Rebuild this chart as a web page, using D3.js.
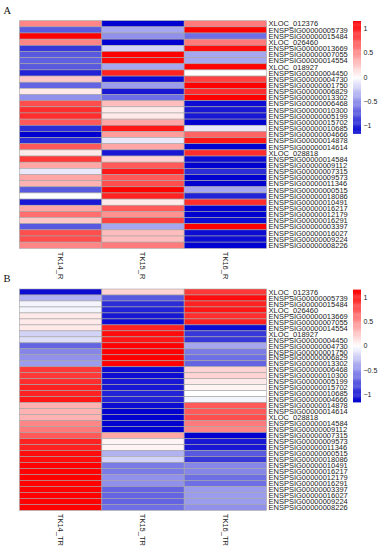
<!DOCTYPE html>
<meta charset="utf-8">
<style>
body { margin: 0; background: #fff; }
.rowlab, .collab, .ticklab { font-family: 'Liberation Sans', Arial, sans-serif; fill: #222; }
.panel { font-family: 'Liberation Serif', 'Times New Roman', serif; font-size: 10.5px; fill: #111; }
</style>
<script src="https://d3js.org/d3.v7.min.js"></script>
<div id="my_dataviz"></div>
<script>

// gene names, top to bottom (same order in both panels)
var genes = ["XLOC_012376", "ENSPSIG00000005739", "ENSPSIG00000015484", "XLOC_026460",
  "ENSPSIG00000013669", "ENSPSIG00000007055", "ENSPSIG00000014554", "XLOC_018927",
  "ENSPSIG00000004450", "ENSPSIG00000004730", "ENSPSIG00000001750", "ENSPSIG00000006829",
  "ENSPSIG00000013302", "ENSPSIG00000006468", "ENSPSIG00000010300", "ENSPSIG00000005199",
  "ENSPSIG00000015702", "ENSPSIG00000010685", "ENSPSIG00000004666", "ENSPSIG00000014878",
  "ENSPSIG00000014614", "XLOC_028818", "ENSPSIG00000014584", "ENSPSIG00000009112",
  "ENSPSIG00000007315", "ENSPSIG00000009573", "ENSPSIG00000011346", "ENSPSIG00000000515",
  "ENSPSIG00000018086", "ENSPSIG00000010491", "ENSPSIG00000016217", "ENSPSIG00000012179",
  "ENSPSIG00000016291", "ENSPSIG00000003397", "ENSPSIG00000016027", "ENSPSIG00000009224",
  "ENSPSIG00000008226"];

var samplesA = ["TK14_R", "TK15_R", "TK16_R"];
var samplesB = ["TK14_TR", "TK15_TR", "TK16_TR"];

// row-scaled values (z-scores), one row per gene
var valuesA = [
  [0.55, -1.15, 0.6], [-0.75, -0.4, 1.15], [1.15, -0.5, -0.65], [0.55, -1.15, 0.6],
  [-0.9, -0.2, 1.1], [-0.75, 1.15, -0.4], [-0.72, 1.12, -0.4], [-0.75, -0.4, 1.15],
  [-1.0, 1.0, 0.0], [0.25, -1.1, 0.85], [-0.7, -0.45, 1.15], [0.1, -1.05, 0.95],
  [-0.5, -0.65, 1.15], [0.8, 0.3, -1.1], [0.95, 0.1, -1.05], [0.95, 0.1, -1.05],
  [0.75, 0.4, -1.15], [-0.95, 1.05, -0.1], [-1.15, 0.45, 0.7], [-0.95, -0.1, 1.05],
  [0.75, 0.4, -1.15], [0.1, -1.05, 0.95], [0.9, 0.2, -1.1], [0.4, 0.75, -1.15],
  [-0.1, 1.05, -0.95], [0.4, 0.75, -1.15], [0.35, 0.8, -1.15], [-0.75, 1.15, -0.4],
  [0.0, 1.0, -1.0], [-1.05, 0.1, 0.95], [0.4, 0.75, -1.15], [0.65, 0.5, -1.15],
  [0.25, 0.85, -1.1], [-0.75, -0.4, 1.15], [0.8, 0.3, -1.1], [0.8, 0.3, -1.1],
  [0.55, 0.6, -1.15]
];

var valuesB = [
  [-1.1, 0.2, 0.9], [-0.35, -0.75, 1.1], [-0.05, -0.95, 1.0], [-0.05, -1.0, 1.05],
  [0.1, -1.05, 0.95], [0.1, -1.1, 1.0], [0.1, 1.0, -1.1], [-0.2, 1.1, -0.9],
  [-0.15, 1.05, -0.9], [-0.7, 1.15, -0.4], [-0.55, 1.15, -0.6], [-0.5, 1.15, -0.65],
  [-0.45, 1.15, -0.7], [0.9, -1.1, 0.2], [0.9, -1.1, 0.2], [0.95, -1.05, 0.1],
  [1.0, -1.05, 0.05], [1.0, -1.0, 0.0], [1.05, -1.0, -0.05], [0.35, -1.1, 0.75],
  [0.35, -1.15, 0.75], [0.35, -1.15, 0.8], [0.55, -1.15, 0.6], [0.6, -1.15, 0.55],
  [0.75, 0.4, -1.15], [1.0, 0.05, -1.05], [1.0, 0.05, -1.05], [1.1, -0.35, -0.75],
  [1.1, -0.2, -0.9], [1.15, -0.6, -0.55], [1.15, -0.6, -0.55], [1.15, -0.5, -0.65],
  [1.15, -0.5, -0.65], [1.15, -0.7, -0.45], [1.15, -0.7, -0.45], [1.15, -0.7, -0.45],
  [1.15, -0.65, -0.5]
];

var legendTicks = [-1, -0.5, 0, 0.5, 1];
var zmax = 1.155;

var svg = d3.select("#my_dataviz")
  .append("svg")
    .attr("width", 384)
    .attr("height", 550);

var color = d3.scaleLinear()
  .domain([-zmax, 0, zmax])
  .range(["#0000d0", "#ffffff", "#ff0000"]);

function drawPanel(letter, samples, values, top, bottom, letterY, legendTop) {
  var g = svg.append("g");

  var x = d3.scaleBand()
    .domain(samples)
    .range([19.5, 266.5]);

  var y = d3.scaleBand()
    .domain(genes)
    .range([top, bottom]);

  var cells = [];
  values.forEach(function(row, i) {
    row.forEach(function(v, j) {
      cells.push({gene: genes[i], sample: samples[j], value: v});
    });
  });

  g.append("g")
    .selectAll("rect")
    .data(cells)
    .enter()
    .append("rect")
      .attr("x", function(d) { return x(d.sample); })
      .attr("y", function(d) { return y(d.gene); })
      .attr("width", x.bandwidth())
      .attr("height", y.bandwidth())
      .style("fill", function(d) { return color(d.value); })
      .style("stroke", "#a6a6a6")
      .style("stroke-width", 0.6);

  // row names (they overlap a little, as in the original)
  g.append("g")
    .selectAll("text")
    .data(genes)
    .enter()
    .append("text")
      .attr("class", "rowlab")
      .attr("x", 268.5)
      .attr("y", function(d) { return y(d) + y.bandwidth() / 2 + 2.7; })
      .style("font-size", "7.5px")
      .text(function(d) { return d; });

  // column names, rotated
  g.append("g")
    .selectAll("text")
    .data(samples)
    .enter()
    .append("text")
      .attr("class", "collab")
      .attr("transform", function(d) {
        return "translate(" + (x(d) + x.bandwidth() / 2 - 2.6) + "," + (bottom + 3.5) + ")rotate(90)";
      })
      .style("font-size", "7.5px")
      .text(function(d) { return d; });

  // colour key
  var ly = d3.scaleLinear()
    .domain([-zmax, zmax])
    .range([legendTop + 112.5, legendTop]);

  var steps = d3.range(100).map(function(i) { return -zmax + (i + 0.5) * 2 * zmax / 100; });
  var step = 2 * zmax / 100;
  g.append("g")
    .selectAll("rect")
    .data(steps)
    .enter()
    .append("rect")
      .attr("x", 353)
      .attr("y", function(d) { return ly(d + step / 2); })
      .attr("width", 8)
      .attr("height", function(d) { return ly(d - step / 2) - ly(d + step / 2) + 0.3; })
      .style("fill", function(d) { return color(d); });

  g.append("g")
    .selectAll("text")
    .data(legendTicks)
    .enter()
    .append("text")
      .attr("class", "ticklab")
      .attr("x", 363.5)
      .attr("y", function(d) { return ly(d) + 2.5; })
      .style("font-size", "7px")
      .text(function(d) { return d < 0 ? "\u2212" + Math.abs(d) : d; });

  svg.append("text")
    .attr("class", "panel")
    .attr("x", 3.5)
    .attr("y", letterY)
    .text(letter);
}

drawPanel("A", samplesA, valuesA, 20.7, 248.3, 14, 21);
drawPanel("B", samplesB, valuesB, 289, 510.3, 282, 289.6);

</script>
